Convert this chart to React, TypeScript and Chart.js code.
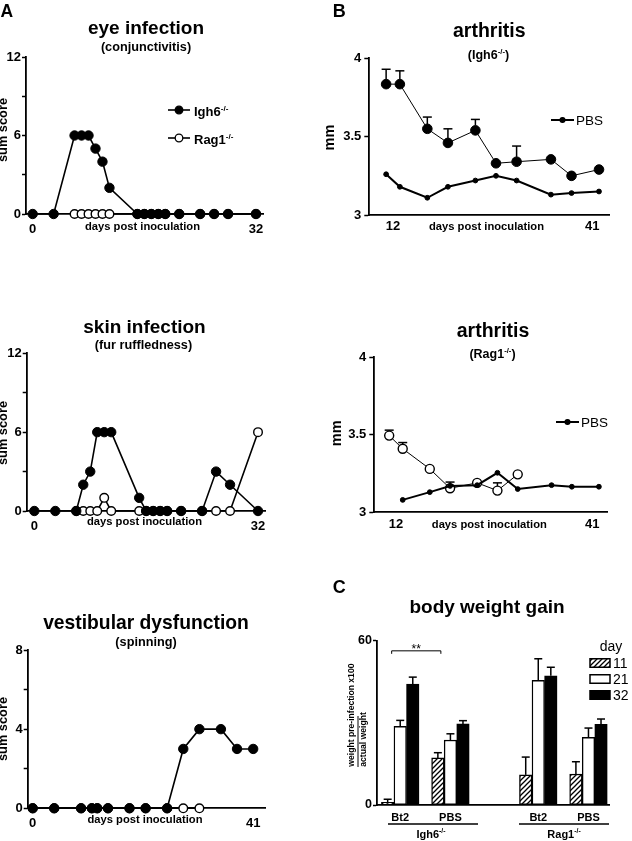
import { useEffect, useRef } from "react";
import { Chart, registerables } from "chart.js";

Chart.register(...registerables);

const FAMILY = '"Liberation Sans", Arial, Helvetica, sans-serif';

// ---------- Panel A: clinical scores ----------
const scoreDays = [0, 3, 6, 7, 8, 9, 10, 11, 15, 16, 17, 18, 19, 21, 24, 26, 28, 32];
const rag1ScoreDays = [6, 7, 8, 9, 10, 11, 15, 16, 17, 18, 19, 21, 24, 26, 28, 32];
const eyeIgh6 = [0, 0, 6, 6, 6, 5, 4, 2, 0, 0, 0, 0, 0, 0, 0, 0, 0, 0];
const eyeRag1 = [0, 0, 0, 0, 0, 0, 0, 0, 0, 0, 0, 0, 0, 0, 0, 0];
const skinIgh6 = [0, 0, 0, 2, 3, 6, 6, 6, 1, 0, 0, 0, 0, 0, 0, 3, 2, 0];
const skinRag1 = [0, 0, 0, 0, 1, 0, 0, 0, 0, 0, 0, 0, 0, 0, 0, 6];
const vestDays = [0, 4, 9, 11, 12, 14, 18, 21, 25, 28, 31, 35, 38, 41];
const vestIgh6 = [0, 0, 0, 0, 0, 0, 0, 0, 0, 3, 4, 4, 3, 3];
const vestRag1Days = [0, 4, 9, 11, 12, 14, 18, 21, 25, 28, 31];
const vestRag1 = [0, 0, 0, 0, 0, 0, 0, 0, 0, 0, 0];

// ---------- Panel B: arthritis (mm) ----------
const arthDays = [11, 13, 17, 20, 24, 27, 30, 35, 38, 42];
const igh6Bt2 = [3.835, 3.835, 3.55, 3.46, 3.54, 3.33, 3.34, 3.355, 3.25, 3.29];
const igh6Bt2Sem = [0.095, 0.085, 0.075, 0.09, 0.07, 0.02, 0.1, 0.02, 0.02, 0.03];
const igh6Pbs = [3.26, 3.18, 3.11, 3.18, 3.22, 3.25, 3.22, 3.13, 3.14, 3.15];
const rag1Bt2Days = [11, 13, 17, 20, 24, 27, 30];
const rag1Bt2 = [3.495, 3.41, 3.28, 3.155, 3.19, 3.14, 3.245];
const rag1Bt2Sem = [0.035, 0.04, 0.01, 0.04, 0.01, 0.05, 0.03];
const rag1PbsDays = [13, 17, 20, 24, 27, 30, 35, 38, 42];
const rag1Pbs = [3.08, 3.13, 3.17, 3.175, 3.255, 3.15, 3.175, 3.165, 3.165];

// ---------- Panel C: body weight gain ----------
const weightGroups = ["Bt2", "PBS", "Bt2", "PBS"];
const weightStrains = ["Igh6", "Rag1"];
const weightDays = ["11", "21", "32"];
const gainDay11 = [1.0, 17.2, 11.0, 11.3];
const gainDay11Sem = [1.1, 1.9, 6.5, 4.5];
const gainDay21 = [28.7, 23.7, 45.5, 24.7];
const gainDay21Sem = [2.2, 2.3, 7.9, 3.4];
const gainDay32 = [44.2, 29.6, 47.2, 29.5];
const gainDay32Sem = [2.5, 1.2, 3.1, 1.9];

type Seg = { t: string; sup?: boolean };

function setFont(ctx: any, size: number, bold: boolean) {
  ctx.font = `${bold ? "bold " : ""}${size}px ${FAMILY}`;
}
function text(ctx: any, s: string, x: number, y: number, size: number, bold = true, align = "center") {
  ctx.save();
  setFont(ctx, size, bold);
  ctx.fillStyle = "#000";
  ctx.textAlign = align;
  ctx.textBaseline = "alphabetic";
  ctx.fillText(s, x, y);
  ctx.restore();
}
function rich(ctx: any, segs: Seg[], x: number, y: number, size: number, bold = true, align = "center") {
  ctx.save();
  ctx.fillStyle = "#000";
  ctx.textAlign = "left";
  ctx.textBaseline = "alphabetic";
  const supSize = size * 0.62;
  const widths = segs.map((s) => {
    setFont(ctx, s.sup ? supSize : size, bold);
    return ctx.measureText(s.t).width;
  });
  const total = widths.reduce((a, b) => a + b, 0);
  let cx = align === "center" ? x - total / 2 : x;
  segs.forEach((s, i) => {
    setFont(ctx, s.sup ? supSize : size, bold);
    ctx.fillText(s.t, cx, s.sup ? y - size * 0.42 : y);
    cx += widths[i];
  });
  ctx.restore();
}
function vtext(ctx: any, s: string, cx: number, cy: number, size: number, bold = true, align = "center") {
  ctx.save();
  ctx.translate(cx, cy);
  ctx.rotate(-Math.PI / 2);
  setFont(ctx, size, bold);
  ctx.fillStyle = "#000";
  ctx.textAlign = align;
  ctx.textBaseline = "middle";
  ctx.fillText(s, 0, 0);
  ctx.restore();
}
function seg(ctx: any, pts: number[][], w = 1.5) {
  ctx.save();
  ctx.strokeStyle = "#000";
  ctx.lineWidth = w;
  ctx.beginPath();
  pts.forEach((p, i) => (i === 0 ? ctx.moveTo(p[0], p[1]) : ctx.lineTo(p[0], p[1])));
  ctx.stroke();
  ctx.restore();
}
function lineLegend(ctx: any, x1: number, x2: number, y: number, r: number, fill: string, lw: number,
  segs: Seg[], tx: number, size: number, bold: boolean, dy: number) {
  seg(ctx, [[x1, y], [x2, y]], lw);
  ctx.save();
  ctx.beginPath();
  ctx.arc((x1 + x2) / 2, y, r, 0, Math.PI * 2);
  ctx.fillStyle = fill;
  ctx.fill();
  ctx.strokeStyle = "#000";
  ctx.lineWidth = 1.3;
  ctx.stroke();
  ctx.restore();
  rich(ctx, segs, tx, y + dy, size, bold, "left");
}

const pts = (xs: number[], ys: number[]) => xs.map((x, i) => ({ x, y: ys[i] }));

const errorBars = {
  id: "errorBars",
  afterDatasetsDraw(chart: any) {
    const ctx = chart.ctx;
    const ys = chart.scales.y;
    chart.data.datasets.forEach((ds: any, i: number) => {
      if (!ds.sem) return;
      const meta = chart.getDatasetMeta(i);
      meta.data.forEach((el: any, j: number) => {
        const s = ds.sem[j];
        if (!s) return;
        const v = ds.data[j].y;
        const top = ys.getPixelForValue(v + s);
        const start = el.y - (ds.errFrom || 0);
        if (top >= start - 0.5) return;
        const cap = ds.capHalf || 4.5;
        seg(ctx, [[el.x, start], [el.x, top]], 1.5);
        seg(ctx, [[el.x - cap, top], [el.x + cap, top]], 1.5);
      });
    });
  },
};

function filledDs(data: any[], r = 4.7, lw = 1.6) {
  return {
    data, borderColor: "#000", borderWidth: lw, pointRadius: r, pointBackgroundColor: "#000",
    pointBorderColor: "#000", pointBorderWidth: 1, clip: false, tension: 0,
  };
}
function openDs(data: any[], r = 4.3, lw = 1.6) {
  return {
    data, borderColor: "#000", borderWidth: lw, pointRadius: r, pointBackgroundColor: "#fff",
    pointBorderColor: "#000", pointBorderWidth: 1.4, clip: false, tension: 0,
  };
}

// box = chart-area edges inside the canvas: left, right, top, bottom (canvas local px)
function lineConfig(s: any) {
  const { w, h, box } = s;
  return {
    type: "line",
    data: { datasets: s.datasets },
    options: {
      animation: false,
      responsive: false,
      events: [],
      layout: { padding: { left: 0, bottom: 0, top: box.top, right: w - box.right } },
      plugins: { legend: { display: false }, tooltip: { enabled: false } },
      scales: {
        x: {
          type: "linear", bounds: "data", min: s.xMin, max: s.xMax,
          afterFit: (sc: any) => { sc.height = h - box.bottom; },
          afterBuildTicks: (sc: any) => { sc.ticks = s.xTicks.map((v: number) => ({ value: v })); },
          grid: { display: false },
          border: { display: true, color: "#000", width: 1.8 },
          ticks: {
            color: "#000", font: { family: FAMILY, size: 13, weight: "bold" }, padding: s.xPad,
            autoSkip: false, maxRotation: 0, callback: (v: number) => String(v),
          },
        },
        y: {
          type: "linear", bounds: "data", min: s.yMin, max: s.yMax,
          afterFit: (sc: any) => { sc.width = box.left; },
          afterBuildTicks: (sc: any) => { sc.ticks = s.yTicks.map((v: number) => ({ value: v })); },
          grid: { display: true, drawOnChartArea: false, drawTicks: true, tickLength: s.tickLen || 4, tickColor: "#000", tickWidth: 1.5 },
          border: { display: true, color: "#000", width: 1.8 },
          ticks: {
            color: "#000", font: { family: FAMILY, size: 13, weight: "bold" }, padding: s.yPad,
            autoSkip: false, callback: s.yLabel,
          },
        },
      },
    },
    plugins: [errorBars, { id: "decor", afterDraw: (c: any) => s.decor(c.ctx, c) }],
  };
}

const scoreLabel12 = (v: number) => (v % 6 === 0 ? String(v) : "");
const scoreLabel8 = (v: number) => (v % 4 === 0 ? String(v) : "");
const sup = (a: string, b = "-/-"): Seg[] => [{ t: a }, { t: b, sup: true }];

function panelA1() {
  return lineConfig({
    datasets: [filledDs(pts(scoreDays, eyeIgh6)), openDs(pts(rag1ScoreDays, eyeRag1))],
    w: 316, h: 280, box: { left: 26, right: 263.3, top: 57, bottom: 214 },
    xMin: -0.96, xMax: 33.05, xTicks: [0, 32], xPad: -0.4,
    yMin: 0, yMax: 12, yTicks: [0, 3, 6, 9, 12], yLabel: scoreLabel12, yPad: 1,
    decor: (ctx: any) => {
      text(ctx, "A", 0.5, 16.7, 17.5, true, "left");
      text(ctx, "eye infection", 146, 33.5, 19, true);
      text(ctx, "(conjunctivitis)", 146, 50.5, 12.7, true);
      vtext(ctx, "sum score", 3.5, 130, 12.8, true);
      text(ctx, "days post inoculation", 142.5, 229.5, 11.2, true);
      lineLegend(ctx, 168, 190, 110, 3.8, "#000", 1.6, sup("Igh6"), 194, 13, true, 6);
      lineLegend(ctx, 168, 190, 138, 3.8, "#fff", 1.6, sup("Rag1"), 194, 13, true, 6);
    },
  });
}

function panelA2() {
  return lineConfig({
    datasets: [filledDs(pts(scoreDays, skinIgh6)), openDs(pts(rag1ScoreDays, skinRag1))],
    w: 316, h: 300, box: { left: 26.7, right: 265, top: 73.3, bottom: 231 },
    xMin: -1.09, xMax: 33, xTicks: [0, 32], xPad: -0.8,
    yMin: 0, yMax: 12, yTicks: [0, 3, 6, 9, 12], yLabel: scoreLabel12, yPad: 1,
    decor: (ctx: any) => {
      text(ctx, "skin infection", 144.5, 53, 19, true);
      text(ctx, "(fur ruffledness)", 143.5, 69, 12.7, true);
      vtext(ctx, "sum score", 3.5, 153, 12.8, true);
      text(ctx, "days post inoculation", 144.5, 244.5, 11.2, true);
    },
  });
}

function panelA3() {
  return lineConfig({
    datasets: [filledDs(pts(vestDays, vestIgh6)), openDs(pts(vestRag1Days, vestRag1))],
    w: 316, h: 261, box: { left: 27.7, right: 265, top: 70, bottom: 228.3 },
    xMin: -0.93, xMax: 43.2, xTicks: [0, 41], xPad: -0.8,
    yMin: 0, yMax: 8, yTicks: [0, 2, 4, 6, 8], yLabel: scoreLabel8, yPad: 1,
    decor: (ctx: any) => {
      text(ctx, "vestibular dysfunction", 146, 48.5, 19.3, true);
      text(ctx, "(spinning)", 146, 65.5, 12.7, true);
      vtext(ctx, "sum score", 3.5, 149, 12.8, true);
      text(ctx, "days post inoculation", 145, 242.5, 11.2, true);
    },
  });
}

function panelB1() {
  const bt2 = filledDs(pts(arthDays, igh6Bt2), 4.8, 1) as any;
  bt2.sem = igh6Bt2Sem;
  bt2.errFrom = 4.8;
  const pbs = filledDs(pts(arthDays, igh6Pbs), 2.4, 2);
  return lineConfig({
    datasets: [bt2, pbs],
    w: 316, h: 280, box: { left: 53.3, right: 293.3, top: 58.3, bottom: 215 },
    xMin: 8.55, xMax: 43.5, xTicks: [12, 41], xPad: -4.4,
    yMin: 3, yMax: 4, yTicks: [3, 3.5, 4], yLabel: (v: number) => String(v), yPad: 3, tickLen: 5,
    decor: (ctx: any) => {
      text(ctx, "B", 16.7, 16.7, 18, true, "left");
      text(ctx, "arthritis", 173.3, 36.7, 19.5, true);
      rich(ctx, [{ t: "(Igh6" }, { t: "-/-", sup: true }, { t: ")" }], 172.5, 59, 12.5, true);
      vtext(ctx, "mm", 14, 137.5, 14.5, true);
      text(ctx, "days post inoculation", 170.5, 229.5, 11.2, true);
      lineLegend(ctx, 235, 258, 120, 2.4, "#000", 2, [{ t: "PBS" }], 260, 13.5, false, 4.9);
    },
  });
}

function panelB2() {
  const bt2 = openDs(pts(rag1Bt2Days, rag1Bt2), 4.5, 1) as any;
  bt2.sem = rag1Bt2Sem;
  bt2.errFrom = 4.5;
  const pbs = filledDs(pts(rag1PbsDays, rag1Pbs), 2.4, 2);
  return lineConfig({
    datasets: [pbs, bt2],
    w: 316, h: 280, box: { left: 58.3, right: 291.7, top: 77.3, bottom: 232.3 },
    xMin: 8.8, xMax: 43.3, xTicks: [12, 41], xPad: -4.1,
    yMin: 3, yMax: 4, yTicks: [3, 3.5, 4], yLabel: (v: number) => String(v), yPad: 3, tickLen: 5,
    decor: (ctx: any) => {
      text(ctx, "arthritis", 177, 57.3, 19.5, true);
      rich(ctx, [{ t: "(Rag1" }, { t: "-/-", sup: true }, { t: ")" }], 176.5, 78, 12.5, true);
      vtext(ctx, "mm", 20.8, 153.3, 14.5, true);
      text(ctx, "days post inoculation", 173.3, 248, 11.2, true);
      lineLegend(ctx, 240, 263, 142, 2.4, "#000", 2, [{ t: "PBS" }], 265, 13.5, false, 4.9);
    },
  });
}

// slot index on the x axis for a (group, day) pair; a wider gap separates the two strains
const slotOf = (g: number, d: number) => g * 4 + d + (g >= 2 ? 3 : 0);

function panelC(canvas: HTMLCanvasElement) {
  const tile = document.createElement("canvas");
  tile.width = 5;
  tile.height = 5;
  const tg = tile.getContext("2d") as CanvasRenderingContext2D;
  tg.fillStyle = "#fff";
  tg.fillRect(0, 0, 5, 5);
  tg.strokeStyle = "#000";
  tg.lineWidth = 1.3;
  tg.beginPath();
  tg.moveTo(0, 5); tg.lineTo(5, 0);
  tg.moveTo(-1, 1); tg.lineTo(1, -1);
  tg.moveTo(4, 6); tg.lineTo(6, 4);
  tg.stroke();
  const hatch = (canvas.getContext("2d") as CanvasRenderingContext2D).createPattern(tile, "repeat");

  const series = [gainDay11, gainDay21, gainDay32];
  const sems = [gainDay11Sem, gainDay21Sem, gainDay32Sem];
  const fills: any[] = [hatch, "#fff", "#000"];
  const datasets = weightDays.map((day, d) => ({
    label: day,
    data: weightGroups.map((_, g) => ({ x: slotOf(g, d), y: series[d][g] })),
    backgroundColor: fills[d],
    borderColor: "#000",
    borderWidth: 1.4,
    borderSkipped: false,
    barThickness: 12.5,
    sem: sems[d],
    errFrom: 0,
    capHalf: 4,
  }));
  const groupCenters = weightGroups.map((_, g) => slotOf(g, 1));
  const W = 316, H = 281;
  const box = { left: 61, right: 293.3, top: 80.7, bottom: 245 };

  return {
    type: "bar",
    data: { datasets },
    options: {
      animation: false,
      responsive: false,
      events: [],
      layout: { padding: { left: 0, bottom: 0, right: W - box.right, top: box.top } },
      plugins: { legend: { display: false }, tooltip: { enabled: false } },
      scales: {
        x: {
          type: "linear", bounds: "data", offset: false, stacked: true, min: -0.85, max: 17.66,
          afterFit: (sc: any) => { sc.height = H - box.bottom; },
          afterBuildTicks: (sc: any) => { sc.ticks = groupCenters.map((v) => ({ value: v })); },
          grid: { display: false },
          border: { display: true, color: "#000", width: 1.8 },
          ticks: {
            color: "#000", font: { family: FAMILY, size: 11, weight: "bold" }, padding: -1.6,
            autoSkip: false, maxRotation: 0, callback: (_v: number, i: number) => weightGroups[i],
          },
        },
        y: {
          type: "linear", bounds: "data", min: 0, max: 60,
          afterFit: (sc: any) => { sc.width = box.left; },
          afterBuildTicks: (sc: any) => { sc.ticks = [0, 60].map((v) => ({ value: v })); },
          grid: { display: true, drawOnChartArea: false, drawTicks: true, tickLength: 4, tickColor: "#000", tickWidth: 1.5 },
          border: { display: true, color: "#000", width: 1.8 },
          ticks: { color: "#000", font: { family: FAMILY, size: 12.5, weight: "bold" }, padding: 1, autoSkip: false },
        },
      },
    },
    plugins: [
      errorBars,
      {
        id: "decor",
        afterDraw: (c: any) => {
          const ctx = c.ctx;
          const xs = c.scales.x;
          const ys = c.scales.y;
          text(ctx, "C", 16.7, 33.3, 18, true, "left");
          text(ctx, "body weight gain", 171, 53, 19, true);
          vtext(ctx, "weight pre-infection x100", 36, 206.7, 8.6, true, "left");
          vtext(ctx, "actual weight", 48, 206.7, 8.6, true, "left");
          seg(ctx, [[42, 156], [42, 207]], 1);
          // significance bracket
          const bx1 = xs.getPixelForValue(slotOf(0, 0)) + 4;
          const bx2 = xs.getPixelForValue(slotOf(1, 0)) + 3;
          const by = ys.getPixelForValue(56.3);
          seg(ctx, [[bx1, by + 3], [bx1, by], [bx2, by], [bx2, by + 3]], 1);
          text(ctx, "**", (bx1 + bx2) / 2, by + 2, 12, false);
          // legend
          text(ctx, "day", 295, 90.7, 14, false);
          weightDays.forEach((d, k) => {
            const y = 103 + 16 * k;
            ctx.save();
            ctx.fillStyle = fills[k];
            ctx.fillRect(274, y - 4.25, 20, 8.5);
            ctx.strokeStyle = "#000";
            ctx.lineWidth = 1.5;
            ctx.strokeRect(274, y - 4.25, 20, 8.5);
            ctx.restore();
            text(ctx, d, 297, y + 5, 14, false, "left");
          });
          // strain labels
          seg(ctx, [[72, 264], [162, 264]], 1.3);
          seg(ctx, [[203, 264], [293, 264]], 1.3);
          rich(ctx, sup(weightStrains[0]), 115, 278, 11, true);
          rich(ctx, sup(weightStrains[1]), 248, 278, 11, true);
        },
      },
    ],
  };
}

const PANELS = [
  { x: 0, y: 0, w: 316, h: 280, build: () => panelA1() },
  { x: 0, y: 280, w: 316, h: 300, build: () => panelA2() },
  { x: 0, y: 580, w: 316, h: 261, build: () => panelA3() },
  { x: 316, y: 0, w: 316, h: 280, build: () => panelB1() },
  { x: 316, y: 280, w: 316, h: 280, build: () => panelB2() },
  { x: 316, y: 560, w: 316, h: 281, build: (c: HTMLCanvasElement) => panelC(c) },
];

export default function App() {
  const refs = useRef<(HTMLCanvasElement | null)[]>([]);
  useEffect(() => {
    const charts = PANELS.map((p, i) => {
      const cv = refs.current[i] as HTMLCanvasElement;
      return new Chart(cv, p.build(cv) as any);
    });
    return () => charts.forEach((c) => c.destroy());
  }, []);
  return (
    <div style={{ position: "absolute", left: 0, top: 0, width: 632, height: 841, background: "#fff", overflow: "hidden" }}>
      {PANELS.map((p, i) => (
        <canvas
          key={i}
          ref={(el) => { refs.current[i] = el; }}
          width={p.w}
          height={p.h}
          style={{ position: "absolute", left: p.x, top: p.y, width: p.w, height: p.h }}
        />
      ))}
    </div>
  );
}
